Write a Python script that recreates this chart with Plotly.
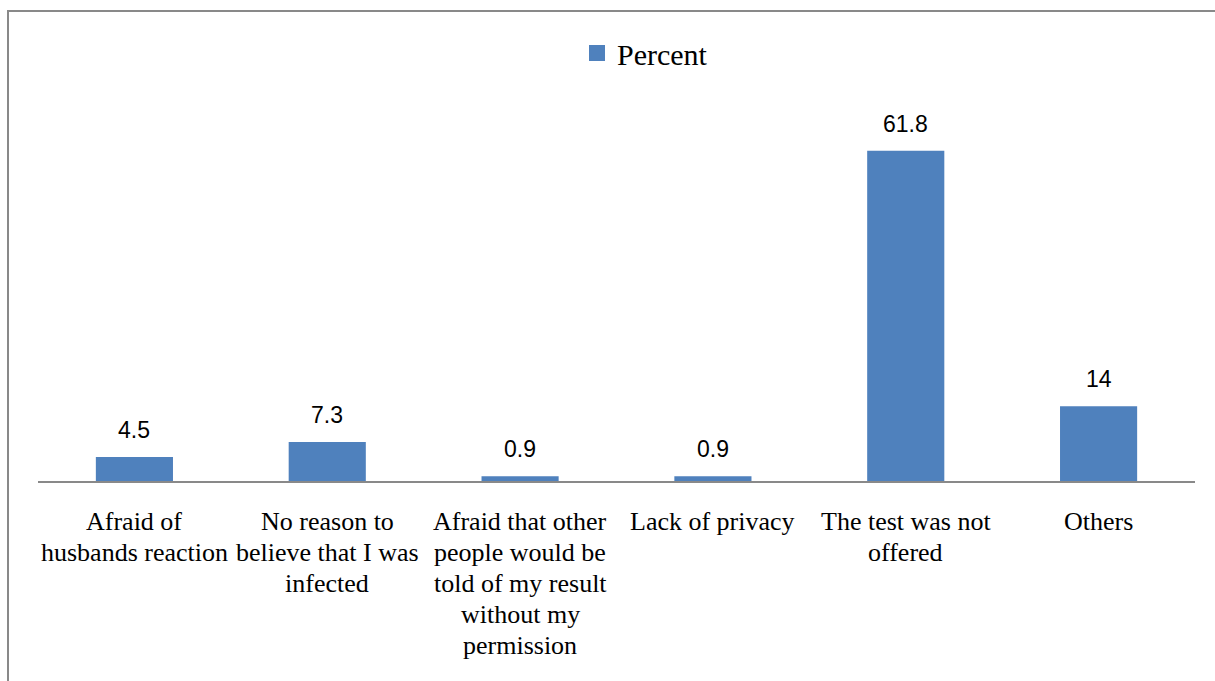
import plotly.graph_objects as go

# Reasons given, and the share of respondents (percent) for each
categories = [
    "Afraid of<br>husbands reaction",
    "No reason to<br>believe that I was<br>infected",
    "Afraid that other<br>people would be<br>told of my result<br>without my<br>permission",
    "Lack of privacy",
    "The test was not<br>offered",
    "Others",
]
percent = [4.5, 7.3, 0.9, 0.9, 61.8, 14]

BAR_COLOR = "#4F81BD"
SERIF = "Liberation Serif"
SANS = "Liberation Sans"

W, H = 1215, 681
ML, MR, MT, MB = 38, 20, 107, 200
plot_w = W - ML - MR
plot_h = H - MT - MB

fig = go.Figure()
fig.add_trace(go.Bar(
    x=categories,
    y=percent,
    marker=dict(color=BAR_COLOR, line=dict(width=0)),
    showlegend=False,
    name="Percent",
))
# legend entry with a larger square swatch
fig.add_trace(go.Scatter(
    x=[None], y=[None], mode="markers", name="Percent",
    marker=dict(symbol="square", size=17, color=BAR_COLOR),
    showlegend=True,
))

# value labels above each bar
for c, v in zip(categories, percent):
    fig.add_annotation(
        x=c, y=v, text=f"{v:g}", showarrow=False,
        yanchor="bottom", yshift=12,
        font=dict(family=SANS, size=23, color="#000000"),
    )

# category labels, one line at a time for tighter line spacing
FIRST_LINE = 40   # px below the axis to the centre of the first line
LINE_STEP = 31    # px between line centres
for c in categories:
    for i, line in enumerate(c.split("<br>")):
        fig.add_annotation(
            x=c, xref="x", yref="paper",
            y=-(FIRST_LINE + LINE_STEP * i) / plot_h,
            text=line, showarrow=False, yanchor="middle", xanchor="center",
            font=dict(family=SERIF, size=26, color="#000000"),
        )

# outer frame (left and top edges visible)
fig.add_shape(
    type="rect", xref="paper", yref="paper",
    x0=(8 - ML) / plot_w, x1=(W + 10 - ML) / plot_w,
    y0=-(H + 10 - (H - MB)) / plot_h, y1=((H - MB) - 11) / plot_h,
    line=dict(color="#898989", width=2), fillcolor="rgba(0,0,0,0)",
    layer="below",
)

fig.update_layout(
    width=W, height=H,
    margin=dict(l=ML, r=MR, t=MT, b=MB, pad=0),
    paper_bgcolor="white", plot_bgcolor="white",
    bargap=0.6,
    showlegend=True,
    legend=dict(
        orientation="h", x=(577 - ML) / plot_w, xanchor="left",
        y=1 + (MT - 53) / plot_h, yanchor="middle",
        font=dict(family=SERIF, size=30, color="#000000"),
        bgcolor="rgba(0,0,0,0)",
    ),
    xaxis=dict(
        range=[-0.5, len(categories) - 0.5], autorange=False,
        showgrid=False, zeroline=False, showline=True,
        linecolor="#898989", linewidth=2, ticks="",
        showticklabels=False, fixedrange=True,
    ),
    yaxis=dict(
        range=[0, 70], autorange=False, visible=False,
        showgrid=False, zeroline=False,
    ),
)

fig.write_html("out.html")
